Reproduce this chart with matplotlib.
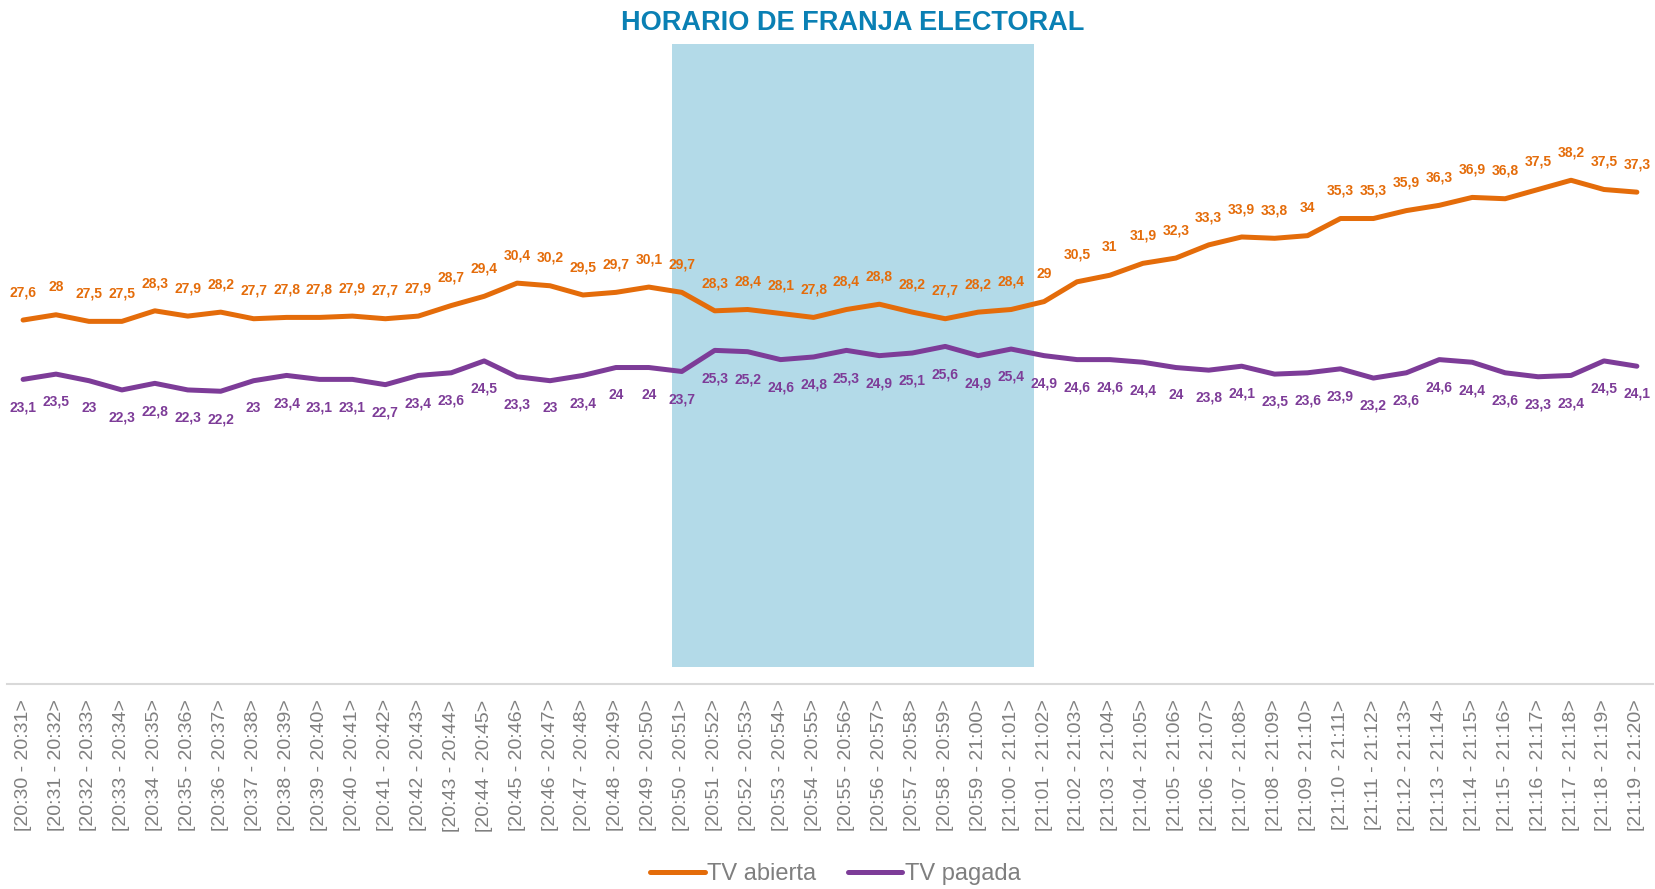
import matplotlib
matplotlib.use("Agg")
import matplotlib.pyplot as plt

# minute slots
starts = ["20:%02d" % m for m in range(30, 60)] + ["21:%02d" % m for m in range(0, 20)]
ends = ["20:%02d" % m for m in range(31, 60)] + ["21:%02d" % m for m in range(0, 21)]
categories = ["[%s - %s>" % (a, b) for a, b in zip(starts, ends)]

tv_abierta = [27.6, 28, 27.5, 27.5, 28.3, 27.9, 28.2, 27.7, 27.8, 27.8,
              27.9, 27.7, 27.9, 28.7, 29.4, 30.4, 30.2, 29.5, 29.7, 30.1,
              29.7, 28.3, 28.4, 28.1, 27.8, 28.4, 28.8, 28.2, 27.7, 28.2,
              28.4, 29, 30.5, 31, 31.9, 32.3, 33.3, 33.9, 33.8, 34,
              35.3, 35.3, 35.9, 36.3, 36.9, 36.8, 37.5, 38.2, 37.5, 37.3]
tv_pagada = [23.1, 23.5, 23, 22.3, 22.8, 22.3, 22.2, 23, 23.4, 23.1,
             23.1, 22.7, 23.4, 23.6, 24.5, 23.3, 23, 23.4, 24, 24,
             23.7, 25.3, 25.2, 24.6, 24.8, 25.3, 24.9, 25.1, 25.6, 24.9,
             25.4, 24.9, 24.6, 24.6, 24.4, 24, 23.8, 24.1, 23.5, 23.6,
             23.9, 23.2, 23.6, 24.6, 24.4, 23.6, 23.3, 23.4, 24.5, 24.1]

orange = "#E46C0A"
purple = "#7D3C98"
sans = ["Liberation Sans", "DejaVu Sans"]

fig = plt.figure(figsize=(16.55, 8.89), dpi=100)
ax = fig.add_axes([0.004, 0.2306, 0.995, 0.7194])

x = list(range(len(categories)))

# electoral slot highlight
ax.fill_between([19.7, 30.7], 1.3, 48.5, color="#B3DAE8", zorder=0, linewidth=0)

ax.plot(x, tv_abierta, color=orange, lw=3.6, label="TV abierta", solid_capstyle="round", zorder=3)
ax.plot(x, tv_pagada, color=purple, lw=3.6, label="TV pagada", solid_capstyle="round", zorder=3)

def fmt(v):
    s = ("%.1f" % v).rstrip("0").rstrip(".")
    return s.replace(".", ",")

for i, v in enumerate(tv_abierta):
    ax.annotate(fmt(v), (i, v), xytext=(0, 20), textcoords="offset points",
                ha="center", va="center", color=orange, fontsize=10,
                fontweight="bold", family=sans)
for i, v in enumerate(tv_pagada):
    ax.annotate(fmt(v), (i, v), xytext=(0, -20), textcoords="offset points",
                ha="center", va="center", color=purple, fontsize=10,
                fontweight="bold", family=sans)

ax.set_xlim(-0.5, len(categories) - 0.5)
ax.set_ylim(0, 48.5)
ax.set_xticks(x)
ax.set_xticklabels(categories, rotation=90, color="#7F7F7F", fontsize=14, family=sans)
ax.tick_params(axis="x", length=0, pad=11)
ax.set_yticks([])
for s in ["top", "right", "left"]:
    ax.spines[s].set_visible(False)
ax.spines["bottom"].set_color("#D9D9D9")
ax.spines["bottom"].set_linewidth(1.5)

fig.text(0.5155, 0.974, "HORARIO DE FRANJA ELECTORAL", ha="center", va="center",
         color="#0A80B4", fontsize=19.5, fontweight="bold", family=sans)

leg = fig.legend(loc="center", bbox_to_anchor=(0.5047, 0.017), ncol=2, frameon=False,
                 prop={"family": sans, "size": 17},
                 handlelength=2.3, handletextpad=0.1, columnspacing=1.35)
for t in leg.get_texts():
    t.set_color("#7F7F7F")

fig.savefig("out.png", dpi=100)
